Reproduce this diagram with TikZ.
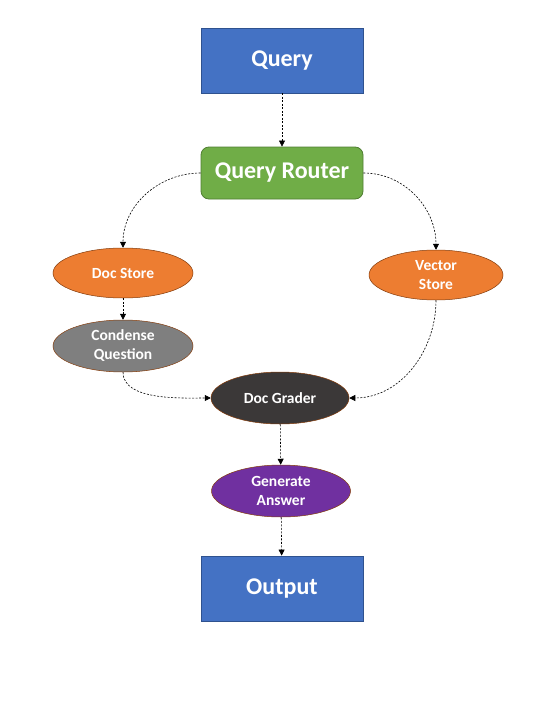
\documentclass[tikz,border=0pt]{standalone}
\usepackage{fontspec}
\setmainfont{Carlito}
\usetikzlibrary{arrows.meta,shapes.geometric}
\definecolor{qblue}{HTML}{4472C4}
\definecolor{qblueb}{HTML}{2F528F}
\definecolor{qgreen}{HTML}{70AD47}
\definecolor{qgreenb}{HTML}{507E32}
\definecolor{qorange}{HTML}{ED7D31}
\definecolor{qgray}{HTML}{7F7F7F}
\definecolor{qdark}{HTML}{3B3838}
\definecolor{qpurple}{HTML}{7030A0}
\definecolor{ebord}{HTML}{843C0C}
\tikzset{
  x=1pt,y=-1pt,
  boxnode/.style={draw=qblueb,fill=qblue,line width=0.8pt,minimum width=162pt,minimum height=65pt,text=white,font=\bfseries\fontsize{24}{28}\selectfont},
  routernode/.style={draw=qgreenb,fill=qgreen,line width=0.8pt,rounded corners=8pt,minimum width=162pt,minimum height=52pt,text=white,font=\bfseries\fontsize{24}{28}\selectfont},
  ellnode/.style={ellipse,draw=ebord,line width=0.5pt,inner sep=0pt,text=white,align=center,font=\bfseries\fontsize{15.5}{19}\selectfont},
  conn/.style={draw=black,line width=0.6pt,dash pattern=on 2pt off 1.5pt,-{Triangle[length=6pt,width=6pt]}}
}
\begin{document}
\begin{tikzpicture}
\useasboundingbox (0,0) rectangle (555,720);
\node[boxnode] (query) at (282,60.5) {Query};
\node[routernode] (router) at (282,173) {Query Router};
\node[ellnode,fill=qorange,minimum width=140pt,minimum height=50pt] (doc) at (123,273) {Doc Store};
\node[ellnode,fill=qorange,minimum width=134pt,minimum height=50pt] (vec) at (436,275) {Vector\\Store};
\node[ellnode,fill=qgray,minimum width=140pt,minimum height=52pt] (cond) at (123,346) {Condense\\Question};
\node[ellnode,fill=qdark,minimum width=138pt,minimum height=52pt] (grader) at (280,398) {Doc Grader};
\node[ellnode,fill=qpurple,minimum width=139pt,minimum height=52pt] (gen) at (281,491) {Generate\\Answer};
\node[boxnode] (out) at (282,588.5) {Output};
\draw[conn] (query) -- (router);
\draw[conn] (router.west) to[out=180,in=90] (doc.north);
\draw[conn] (router.east) to[out=0,in=90] (vec.north);
\draw[conn] (doc) -- (cond);
\draw[conn] (cond.south) to[out=-90,in=180,looseness=0.8] (grader.west);
\draw[conn] (vec.south) to[out=-90,in=0] (grader.east);
\draw[conn] (grader) -- (gen);
\draw[conn] (gen) -- (out);
\end{tikzpicture}
\end{document}
